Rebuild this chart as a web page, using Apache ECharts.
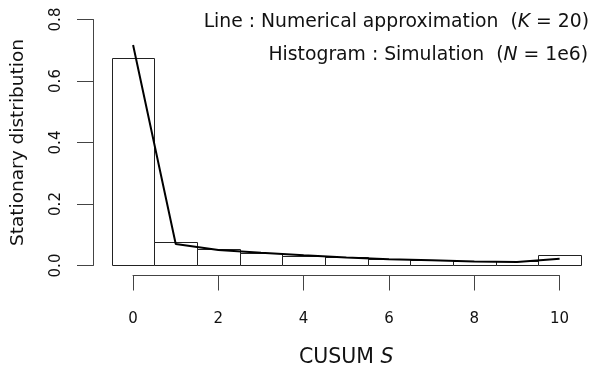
<!DOCTYPE html>
<html>
<head>
<meta charset="utf-8">
<script src="https://cdn.jsdelivr.net/npm/echarts@6/dist/echarts.min.js"></script>
<style>
  html, body { margin: 0; padding: 0; background: #fff; }
  #chart { width: 602px; height: 367px; }
</style>
</head>
<body>
<div id="chart"></div>
<script>
// histogram bins (centres) and simulated frequencies
const bins = [0, 1, 2, 3, 4, 5, 6, 7, 8, 9, 10]
const simulated = [0.674, 0.075, 0.052, 0.040, 0.032, 0.027, 0.022, 0.019, 0.016, 0.013, 0.033]
// numerical approximation (line)
const approxS = [0, 1, 2, 3, 4, 5, 6, 7, 8, 9, 10]
const approx = [0.717, 0.070, 0.050, 0.041, 0.033, 0.026, 0.020, 0.017, 0.013, 0.011, 0.022]
// axis ticks
const xTickMin = 0, xTickMax = 10, xTickStep = 2
const yTickMin = 0, yTickMax = 0.8, yTickStep = 0.2

const font = 'DejaVu Sans'
const ink = '#111'
const axisCol = '#444'

const chart = echarts.init(document.getElementById('chart'), null, { renderer: 'canvas' })

const hidden = { show: false }

chart.setOption({
  animation: false,
  backgroundColor: '#fff',
  grid: [
    // data region (R style 4% padding)
    { left: 93, right: 2.3, top: 9.7, bottom: 91.7, outerBoundsMode: 'none', containLabel: false },
    // x axis, spanning first..last tick
    { left: 133, right: 42.5, top: 9.7, bottom: 91.5, outerBoundsMode: 'none', containLabel: false },
    // y axis, spanning first..last tick
    { left: 93, right: 2.3, top: 19.5, bottom: 101.5, outerBoundsMode: 'none', containLabel: false }
  ],
  xAxis: [
    { gridIndex: 0, type: 'value', min: -0.94, max: 10.94, axisLine: hidden, axisTick: hidden, axisLabel: hidden, splitLine: hidden },
    {
      gridIndex: 1, type: 'value', min: xTickMin, max: xTickMax, interval: xTickStep,
      position: 'bottom',
      axisLine: { show: true, onZero: false, lineStyle: { color: axisCol, width: 1 } },
      axisTick: { show: true, inside: false, length: 15, lineStyle: { color: axisCol, width: 1 } },
      axisLabel: { margin: 36, color: ink, fontSize: 15, fontFamily: font },
      splitLine: hidden,
      name: '{n|CUSUM }{i|S}',
      nameLocation: 'middle',
      nameGap: 72,
      nameTextStyle: {
        rich: {
          n: { fontSize: 20.5, fontFamily: font, color: ink },
          i: { fontSize: 20.5, fontFamily: font, fontStyle: 'italic', color: ink }
        }
      }
    },
    { gridIndex: 2, type: 'value', show: false }
  ],
  yAxis: [
    { gridIndex: 0, type: 'value', min: -0.032, max: 0.832, axisLine: hidden, axisTick: hidden, axisLabel: hidden, splitLine: hidden },
    { gridIndex: 1, type: 'value', show: false },
    {
      gridIndex: 2, type: 'value', min: yTickMin, max: yTickMax, interval: yTickStep,
      position: 'left',
      axisLine: { show: true, onZero: false, lineStyle: { color: axisCol, width: 1 } },
      axisTick: { show: true, inside: false, length: 16, lineStyle: { color: axisCol, width: 1 } },
      axisLabel: {
        rotate: 90, margin: 29, color: ink, fontSize: 15, fontFamily: font,
        formatter: v => v.toFixed(1)
      },
      splitLine: hidden,
      name: 'Stationary distribution',
      nameLocation: 'middle',
      nameGap: 65,
      nameTextStyle: { fontSize: 18.5, fontFamily: font, color: ink }
    }
  ],
  graphic: [
    {
      type: 'text', right: 13, top: 13,
      style: {
        text: '{a|Line : Numerical approximation  (}{i|K}{a| = 20)}',
        rich: {
          a: { fontSize: 18.8, fontFamily: font, fill: ink, color: ink },
          i: { fontSize: 18.8, fontFamily: font, fontStyle: 'italic', fill: ink, color: ink }
        }
      }
    },
    {
      type: 'text', right: 14, top: 46,
      style: {
        text: '{a|Histogram : Simulation  (}{i|N}{a| = 1e6)}',
        rich: {
          a: { fontSize: 18.8, fontFamily: font, fill: ink, color: ink },
          i: { fontSize: 18.8, fontFamily: font, fontStyle: 'italic', fill: ink, color: ink }
        }
      }
    }
  ],
  series: [
    {
      type: 'custom',
      xAxisIndex: 0, yAxisIndex: 0,
      data: bins.map((b, i) => [b, simulated[i]]),
      renderItem(params, api) {
        const x = api.value(0)
        const h = api.value(1)
        const p0 = api.coord([x - 0.5, h])
        const p1 = api.coord([x + 0.5, 0])
        const x0 = Math.round(p0[0]) + 0.5, y0 = Math.round(p0[1]) + 0.5
        const x1 = Math.round(p1[0]) + 0.5, y1 = Math.round(p1[1]) + 0.5
        return {
          type: 'rect',
          shape: { x: x0, y: y0, width: x1 - x0, height: y1 - y0 },
          style: { fill: '#fff', stroke: '#222', lineWidth: 1 }
        }
      }
    },
    {
      type: 'line',
      xAxisIndex: 0, yAxisIndex: 0,
      data: approxS.map((s, i) => [s, approx[i]]),
      showSymbol: false,
      smooth: false,
      lineStyle: { color: '#000', width: 2 },
      z: 3
    }
  ]
})
</script>
</body>
</html>
